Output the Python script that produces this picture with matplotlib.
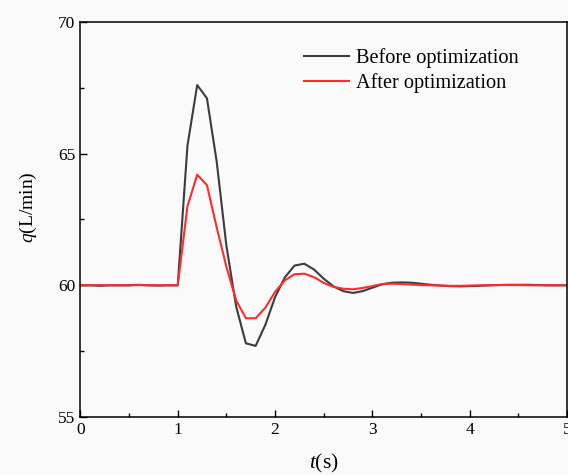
import numpy as np
import matplotlib.pyplot as plt
from matplotlib.ticker import MultipleLocator

# flow response sampled every 0.1 s
t = np.round(np.arange(0, 5.01, 0.1), 1)

q_before = [60.0, 60.0, 59.98, 60.0, 60.0, 60.0, 60.02, 60.0, 59.99, 60.0,
            60.0, 65.3, 67.6, 67.1, 64.7, 61.5, 59.2, 57.8, 57.7, 58.5,
            59.55, 60.3, 60.75, 60.82, 60.6, 60.25, 59.96, 59.78, 59.71, 59.78,
            59.91, 60.04, 60.1, 60.11, 60.1, 60.06, 60.02, 59.99, 59.97, 59.96,
            59.97, 59.98, 60.0, 60.01, 60.02, 60.02, 60.02, 60.01, 60.0, 60.0,
            60.0]

q_after = [60.0, 60.0, 60.01, 60.0, 60.0, 60.0, 60.01, 60.0, 60.0, 60.0,
           60.0, 63.0, 64.2, 63.8, 62.2, 60.7, 59.43, 58.75, 58.75, 59.15,
           59.75, 60.19, 60.42, 60.44, 60.31, 60.09, 59.94, 59.87, 59.85, 59.9,
           59.97, 60.05, 60.06, 60.05, 60.03, 60.01, 60.0, 59.99, 59.98, 59.98,
           59.99, 60.0, 60.0, 60.01, 60.01, 60.01, 60.0, 60.0, 60.0, 60.0,
           60.0]

labels = ['Before optimization', 'After optimization']

plt.rcParams['font.family'] = ['Liberation Serif', 'DejaVu Serif']
plt.rcParams['mathtext.fontset'] = 'custom'
plt.rcParams['mathtext.it'] = 'Liberation Serif:italic'
plt.rcParams['mathtext.rm'] = 'Liberation Serif'

fig = plt.figure(figsize=(5.68, 4.75), dpi=100, facecolor='#fafafa')
ax = fig.add_axes([0.1415, 0.122, 0.857, 0.832], facecolor='#fafafa')

ax.plot(t, q_before, color='#3c3c3c', lw=1.5, label=labels[0])
ax.plot(t, q_after, color='#ff2b2b', lw=1.5, label=labels[1])

ax.set_xlim(0, 5)
ax.set_ylim(55, 70)
ax.xaxis.set_major_locator(MultipleLocator(1))
ax.xaxis.set_minor_locator(MultipleLocator(0.5))
ax.yaxis.set_major_locator(MultipleLocator(5))
ax.yaxis.set_minor_locator(MultipleLocator(2.5))
ax.tick_params(which='both', direction='in', labelsize=12.5, width=1,
               top=False, right=False)
ax.tick_params(which='major', length=5)
ax.tick_params(which='minor', length=3)
for s in ax.spines.values():
    s.set_linewidth(1.1)

ax.set_xlabel(r'$t$(s)', fontsize=15.5, labelpad=10)
ax.set_ylabel(r'$q$(L/min)', fontsize=14)
ax.yaxis.set_label_coords(-0.086, 0.532)

ax.legend(loc='upper right', bbox_to_anchor=(0.938, 0.98), frameon=False,
          fontsize=14.6, handlelength=2.2, handletextpad=0.35,
          labelspacing=0.25)

fig.savefig('out.png', dpi=100, facecolor=fig.get_facecolor())
